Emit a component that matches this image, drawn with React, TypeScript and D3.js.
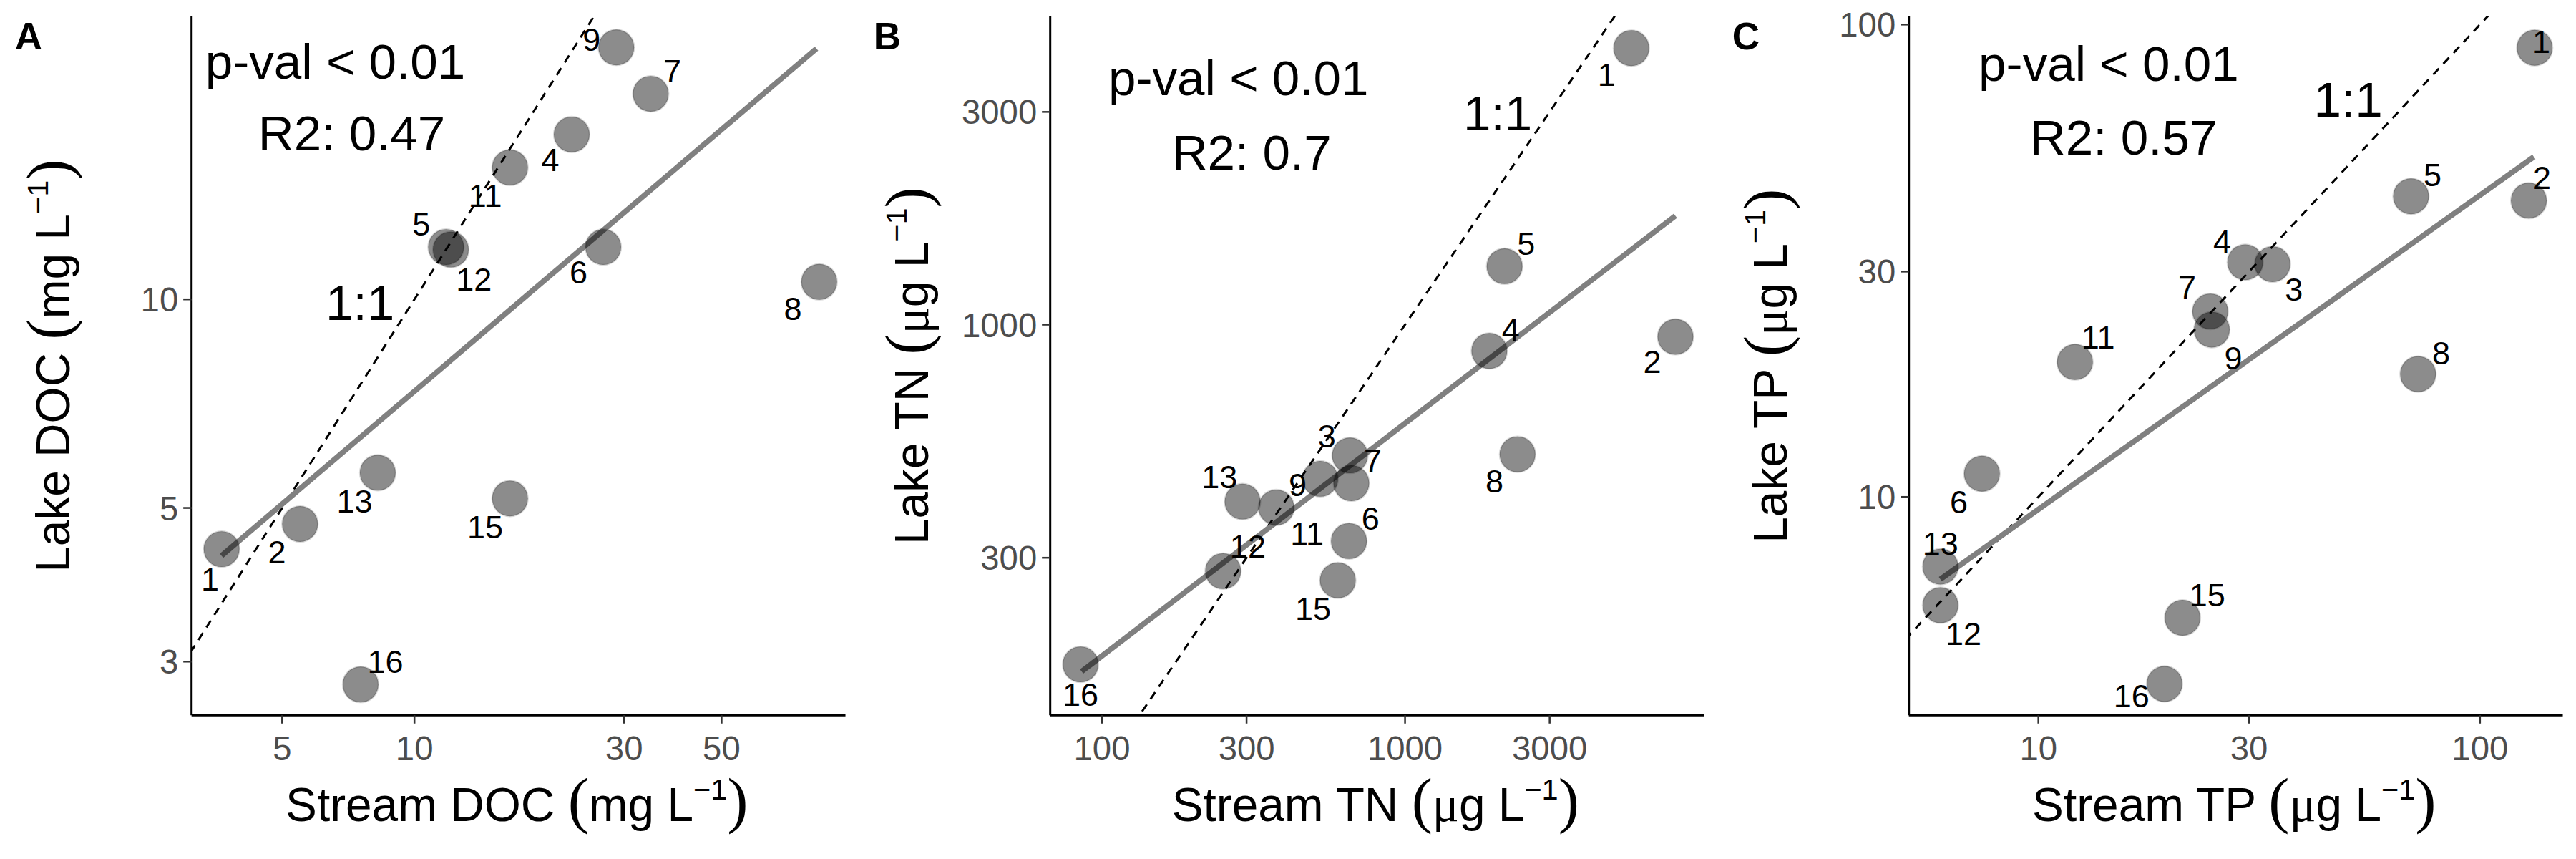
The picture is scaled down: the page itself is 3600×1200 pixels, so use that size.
import * as d3 from "d3";

type Pt = { id: string; x: number; y: number; dx: number; dy: number };

// Panel A: DOC (mg/L)
const docIds = ["1", "2", "13", "15", "16", "5", "12", "11", "4", "9", "7", "6", "8"];
const docStream = [3.64, 5.49, 8.25, 16.5, 7.54, 11.8, 12.1, 16.5, 22.8, 28.8, 34.5, 26.9, 83.4];
const docLake = [4.36, 4.74, 5.62, 5.16, 2.78, 11.9, 11.8, 15.5, 17.3, 23.1, 19.8, 11.9, 10.6];
const docLabelDx = [-7, -14, -14, -15, 15, -15, 14, -15, -13, -15, 13, -15, -16];
const docLabelDy = [18, 17, 17, 17, -14, -14, 18, 17, 15, -5, -14, 15, 16];
const docTicksX = [5, 10, 30, 50];
const docTicksY = [3, 5, 10];
const docFit = { x0: 0.561, y0: 0.63, x1: 1.915, y1: 1.362 };

// Panel B: TN (ug/L)
const tnIds = ["1", "2", "5", "4", "8", "3", "9", "7", "13", "11", "6", "15", "12", "16"];
const tnStream = [5580, 7800, 2130, 1897, 2350, 658, 376, 665, 291, 525, 653, 600, 251, 85];
const tnLake = [4170, 939, 1352, 873, 512, 509, 389, 441, 401, 451, 327, 267, 280, 173];
const tnLabelDx = [-15, -14, 13, 13, -14, -14, 13, 13, -14, -8, 13, -15, 15, 0];
const tnLabelDy = [16, 15, -14, -13, 16, -12, -14, -14, -15, 33, -14, 17, -15, 18];
const tnTicksX = [100, 300, 1000, 3000];
const tnTicksY = [300, 1000, 3000];
const tnFit = { x0: 1.933, y0: 2.222, x1: 3.892, y1: 3.244 };

// Panel C: TP (ug/L)
const tpIds = ["1", "2", "5", "8", "4", "3", "7", "9", "11", "6", "13", "12", "15", "16"];
const tpStream = [133, 129, 69.8, 72.4, 29.4, 33.9, 24.5, 24.7, 12.1, 7.45, 6.0, 6.0, 21.2, 19.3];
const tpLake = [89.3, 42.4, 43.3, 18.2, 31.4, 31.1, 24.7, 22.6, 19.3, 11.2, 7.12, 5.9, 5.55, 4.02];
const tpLabelDx = [4, 8, 13, 14, -14, 13, -14, 13, 14, -14, 0, 14, 15, -20];
const tpLabelDy = [-4, -14, -13, -13, -13, 15, -15, 17, -15, 17, -14, 17, -14, 7];
const tpTicksX = [10, 30, 100];
const tpTicksY = [10, 30, 100];
const tpFit = { x0: 0.778, y0: 0.826, x1: 2.122, y1: 1.72 };

const build = (ids: string[], xs: number[], ys: number[], dx: number[], dy: number[]): Pt[] =>
  ids.map((id, i) => ({ id, x: xs[i], y: ys[i], dx: dx[i], dy: dy[i] }));

const L = 116, R = 512, T = 10, B = 433;
const FONT = "Liberation Sans, Arial, sans-serif";

type PanelProps = {
  ox: number;
  letter: string;
  pts: Pt[];
  xDom: [number, number];
  yDom: [number, number];
  ticksX: number[];
  ticksY: number[];
  fit: { x0: number; y0: number; x1: number; y1: number };
  r2: string;
  pv: [number, number];
  r2p: [number, number];
  onep: [number, number];
  name: string;
  unit: "mg" | "ug";
};

const Unit = ({ name, unit, side }: { name: string; unit: "mg" | "ug"; side: string }) => (
  <>
    {side} {name}{" "}
    <tspan fontFamily="Liberation Serif, serif" fontSize={38}>(</tspan>
    {unit === "mg" ? "mg" : <tspan fontFamily="Liberation Serif, serif" fontSize={30}>μ</tspan>}
    {unit === "ug" ? "g" : ""} L
    <tspan fontSize={18} dy={-13}>−1</tspan>
    <tspan fontFamily="Liberation Serif, serif" fontSize={38} dy={13}>)</tspan>
  </>
);

const Panel = (p: PanelProps) => {
  const x = d3.scaleLog().domain(p.xDom).range([L, R]);
  const y = d3.scaleLog().domain(p.yDom).range([B, T]);
  const clip = `clip${p.letter}`;
  const line = d3.line<[number, number]>().x((d) => x(d[0])).y((d) => y(d[1]));
  const lo = Math.min(p.xDom[0], p.yDom[0]);
  const hi = Math.max(p.xDom[1], p.yDom[1]);
  const fitPts: [number, number][] = [
    [10 ** p.fit.x0, 10 ** p.fit.y0],
    [10 ** p.fit.x1, 10 ** p.fit.y1],
  ];
  return (
    <g transform={`translate(${p.ox},0)`} fontFamily={FONT}>
      <defs>
        <clipPath id={clip}>
          <rect x={L} y={T} width={R - L} height={B - T} />
        </clipPath>
      </defs>
      <text x={9} y={30} fontSize={23} fontWeight="bold">{p.letter}</text>
      <path d={line([[lo, lo], [hi, hi]]) || undefined} stroke="#000" strokeWidth={1.3}
        strokeDasharray="5,4" fill="none" clipPath={`url(#${clip})`} />
      <path d={line(fitPts) || undefined} stroke="#808080" strokeWidth={3.3} fill="none" />
      {p.pts.map((d) => (
        <circle key={d.id} cx={x(d.x)} cy={y(d.y)} r={10.8} fill="#000" fillOpacity={0.45}
          stroke="#000" strokeOpacity={0.15} />
      ))}
      {p.pts.map((d) => (
        <text key={"l" + d.id} x={x(d.x) + d.dx} y={y(d.y) + d.dy} dy="0.36em"
          textAnchor="middle" fontSize={19.5}>{d.id}</text>
      ))}
      <line x1={L} x2={L} y1={T} y2={B} stroke="#000" strokeWidth={1.3} />
      <line x1={L} x2={R} y1={B} y2={B} stroke="#000" strokeWidth={1.3} />
      {p.ticksX.map((t) => (
        <g key={"x" + t}>
          <line x1={x(t)} x2={x(t)} y1={B} y2={B + 5} stroke="#333" strokeWidth={1.1} />
          <text x={x(t)} y={460} textAnchor="middle" fontSize={20.5} fill="#4d4d4d">{t}</text>
        </g>
      ))}
      {p.ticksY.map((t) => (
        <g key={"y" + t}>
          <line x1={L - 5} x2={L} y1={y(t)} y2={y(t)} stroke="#333" strokeWidth={1.1} />
          <text x={L - 8} y={y(t)} dy="0.36em" textAnchor="end" fontSize={20.5} fill="#4d4d4d">{t}</text>
        </g>
      ))}
      <text x={p.pv[0]} y={p.pv[1]} dy="0.36em" textAnchor="middle" fontSize={30}>p-val &lt; 0.01</text>
      <text x={p.r2p[0]} y={p.r2p[1]} dy="0.36em" textAnchor="middle" fontSize={30}>R2: {p.r2}</text>
      <text x={p.onep[0]} y={p.onep[1]} dy="0.36em" textAnchor="middle" fontSize={30}>1:1</text>
      <text x={313} y={497} textAnchor="middle" fontSize={28.5}>
        <Unit name={p.name} unit={p.unit} side="Stream" />
      </text>
      <text transform={`translate(42,${(T + B) / 2}) rotate(-90)`} textAnchor="middle" fontSize={28.5}>
        <Unit name={p.name} unit={p.unit} side="Lake" />
      </text>
    </g>
  );
};

export default function App() {
  return (
    <svg width={3600} height={1200} viewBox="0 0 1560 520"
      style={{ position: "absolute", left: 0, top: 0, background: "#fff" }}>
      <rect width={1560} height={520} fill="#fff" />
      <Panel ox={0} letter="A" pts={build(docIds, docStream, docLake, docLabelDx, docLabelDy)}
        xDom={[3.11, 95.7]} yDom={[2.51, 25.6]} ticksX={docTicksX} ticksY={docTicksY}
        fit={docFit} r2="0.47" pv={[203, 37]} r2p={[213, 80]} onep={[218, 183]} name="DOC" unit="mg" />
      <Panel ox={520} letter="B" pts={build(tnIds, tnStream, tnLake, tnLabelDx, tnLabelDy)}
        xDom={[67.5, 9700]} yDom={[133, 4910]} ticksX={tnTicksX} ticksY={tnTicksY}
        fit={tnFit} r2="0.7" pv={[230, 47]} r2p={[238, 92]} onep={[387, 68]} name="TN" unit="ug" />
      <Panel ox={1040} letter="C" pts={build(tpIds, tpStream, tpLake, tpLabelDx, tpLabelDy)}
        xDom={[5.09, 154]} yDom={[3.45, 104]} ticksX={tpTicksX} ticksY={tpTicksY}
        fit={tpFit} r2="0.57" pv={[237, 38]} r2p={[246, 83]} onep={[382, 60]} name="TP" unit="ug" />
    </svg>
  );
}
